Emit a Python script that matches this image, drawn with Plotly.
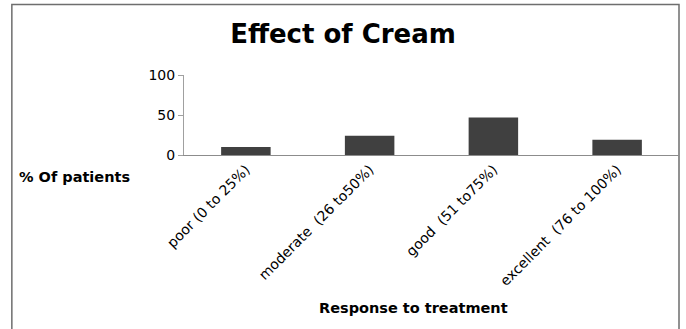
import plotly.graph_objects as go

# Response categories and share of patients (%)
categories = [
    "poor (0 to 25%)",
    "moderate\u00a0\u00a0(26 to50%)",
    "good\u00a0\u00a0(51 to75%)",
    "excellent\u00a0\u00a0(76 to 100%)",
]
patients_pct = [10, 24, 47, 19]
y_ticks = [0, 50, 100]

FONT = "DejaVu Sans"

fig = go.Figure(
    go.Bar(
        x=categories,
        y=patients_pct,
        marker=dict(color="#404040", line=dict(width=0)),
        showlegend=False,
    )
)

fig.update_layout(
    width=686,
    height=329,
    margin=dict(l=183.5, r=6.5, t=75, b=174),
    paper_bgcolor="white",
    plot_bgcolor="white",
    bargap=0.6,
    font=dict(family=FONT, color="#000000"),
    title=dict(
        text="<b>Effect of Cream</b>",
        font=dict(family=FONT, size=26, color="#000000"),
        x=0.5,
        xref="container",
        xanchor="center",
        y=1 - 34 / 329,
        yref="container",
        yanchor="middle",
    ),
)

fig.update_xaxes(
    type="category",
    tickangle=-45,
    tickfont=dict(family=FONT, size=14, color="#000000"),
    showline=True,
    linecolor="#8c8c8c",
    linewidth=1,
    ticks="",
    showgrid=False,
    zeroline=False,
)

fig.update_yaxes(
    range=[0, 100],
    tickvals=y_ticks,
    tickfont=dict(family=FONT, size=14, color="#000000"),
    showline=True,
    linecolor="#a0a0a0",
    linewidth=1,
    ticks="outside",
    ticklen=5,
    tickcolor="#a0a0a0",
    showgrid=False,
    zeroline=False,
)

# Outer frame around the chart
fig.add_shape(
    type="rect",
    xref="paper",
    yref="paper",
    x0=(11 - 183.5) / 496,
    x1=1.0,
    y0=-2.5,
    y1=(155 - 4.5) / 80,
    line=dict(color="#6e6e6e", width=1.5),
    fillcolor="rgba(0,0,0,0)",
    layer="below",
)

fig.add_annotation(
    text="<b>% Of patients</b>",
    xref="paper",
    yref="paper",
    x=(16 - 183.5) / 496,
    xanchor="left",
    y=(155 - 177) / 80,
    yanchor="middle",
    showarrow=False,
    font=dict(family=FONT, size=14.5, color="#000000"),
)

fig.add_annotation(
    text="<b>Response to treatment</b>",
    xref="paper",
    yref="paper",
    x=(413 - 183.5) / 496,
    xanchor="center",
    y=(155 - 308) / 80,
    yanchor="middle",
    showarrow=False,
    font=dict(family=FONT, size=14.5, color="#000000"),
)

fig.write_html("out.html")
